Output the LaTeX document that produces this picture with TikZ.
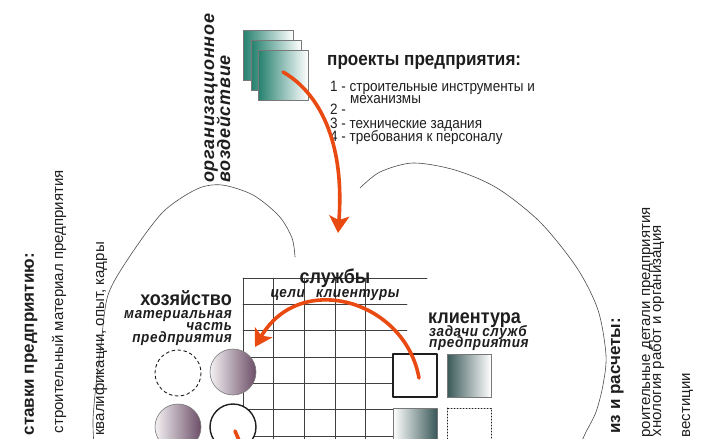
\documentclass[tikz,border=0pt]{standalone}
\usepackage{fontspec}
\usetikzlibrary{arrows.meta}
\setmainfont{Liberation Sans}
\newfontfamily\narrowfont[FakeStretch=0.9]{Liberation Sans}
\newfontfamily\spacedfont[FakeStretch=0.9,LetterSpace=4]{Liberation Sans}
\newfontfamily\vertfont[LetterSpace=4]{Liberation Sans}
\definecolor{flame}{RGB}{232,74,18}
\definecolor{deepteal}{RGB}{36,128,110}
\definecolor{slate}{RGB}{58,88,88}
\definecolor{mauve}{RGB}{108,78,104}
\definecolor{ink}{RGB}{30,30,30}
\begin{document}
\begin{tikzpicture}[x=1pt, y=-1pt, line join=round, line cap=round,
	>={Stealth[length=17pt,width=20pt,inset=4pt]},
	every node/.style={inner sep=0pt, text=ink},
	flow/.style={draw=flame, line width=3.6pt},
	gridline/.style={draw=ink!85, line width=0.8pt},
	rim/.style={draw=ink!60, line width=0.6pt},
	head/.style={font=\narrowfont\bfseries\fontsize{20}{20}\selectfont},
	sub/.style={font=\spacedfont\bfseries\itshape\fontsize{15}{15}\selectfont},
	item/.style={font=\narrowfont\fontsize{15}{15}\selectfont, anchor=base west},
	side/.style={rotate=90, anchor=base east, font=\fontsize{15}{15}\selectfont},
	sidehead/.style={side, font=\bfseries\fontsize{17}{17}\selectfont}]
	\useasboundingbox (0,0) rectangle (713,439);
	\clip (0,0) rectangle (713,439);
	\path (283,72) coordinate (A1) (338,233) coordinate (B1)
	(419,378) coordinate (A2) (255,347) coordinate (B2)
	(235,431) coordinate (A3) (242,447) coordinate (B3);
	% stacked project sheets
	\foreach \sx/\sy in {243/30,251/40,258/50}
	\shade[rim, left color=deepteal, right color=white] (\sx,\sy) rectangle ++(50,50);
	\node[font=\narrowfont\bfseries\fontsize{19}{19}\selectfont, anchor=base west] (proj) at (327,65) {проекты предприятия:};
	\node[item] (it1) at (330,91) {1 - строительные инструменты и};
	\node[item] (it1b) at (350,103) {механизмы};
	\node[item] (it2) at (330,114) {2 -};
	\node[item] (it3) at (330,128) {3 - технические задания};
	\node[item] (it4) at (330,141) {4 - требования к персоналу};
	\node[rotate=90, anchor=base west, font=\vertfont\bfseries\itshape\fontsize{18}{18}\selectfont] (org1) at (214,183) {организационное};
	\node[rotate=90, anchor=base west, font=\vertfont\bfseries\itshape\fontsize{18}{18}\selectfont] (org2) at (230,183) {воздействие};
	% the two rims
	\draw[ink!80, line width=0.6pt] plot[smooth] coordinates {(94,445) (93,420) (96,385) (101,345) (108,295) (130,256) (163,212) (197,189) (222,185) (253,195) (279,216) (292,238) (295,257)};
	\draw[ink!80, line width=0.6pt] plot[smooth] coordinates {(360,188) (380,172) (413,163) (455,170) (497,188) (540,222) (577,268) (598,310) (606,355) (603,385) (596,412) (586,432) (580,445)};
	% grid
	\foreach \gx in {243,273,304,335,365}
	\draw[gridline] (\gx,278) -- (\gx,445);
	\foreach \gy/\gend in {278/427,304/407,330/407,357/393,383/393,409/393,436/393}
	\draw[gridline] (243,\gy) -- (\gend,\gy);
	\node[head, anchor=base] (slu) at (335,283) {службы};
	\node[sub, anchor=base] (slusub) at (335,297) {цели\hspace{7pt} клиентуры};
	\node[head, anchor=base east] (hoz) at (232,305) {хозяйство};
	\node[sub, anchor=base east] (hoz1) at (232,318) {материальная};
	\node[sub, anchor=base east] (hoz2) at (232,330) {часть};
	\node[sub, anchor=base east] (hoz3) at (232,342) {предприятия};
	\node[head, anchor=base west] (kli) at (428,323) {клиентура};
	\node[sub, anchor=base west] (kli1) at (429,336) {задачи служб};
	\node[sub, anchor=base west] (kli2) at (429,347) {предприятия};
	% circles and squares
	\draw[ink, line width=0.9pt, dashed, fill=white] (178,373) circle (23);
	\shade[rim, left color=mauve!8, right color=mauve] (233,372) circle (23);
	\shade[rim, left color=mauve!8, right color=mauve] (178,427) circle (23);
	\draw[ink, line width=1.4pt, fill=white] (233,427) circle (23);
	\draw[ink, line width=1.6pt, fill=white] (393,354) rectangle (437,397);
	\shade[rim, left color=slate, right color=white] (447,354) rectangle (491,397);
	\shade[rim, left color=white, right color=slate] (393,408) rectangle (437,452);
	\draw[ink, line width=1pt, dotted, fill=white] (447,408) rectangle (491,452);
	% side notes
	\node[sidehead] (post) at (34,253) {ставки предприятию:};
	\node[side] (mat) at (63,170) {строительный материал предприятия};
	\node[side] (kval) at (104,242) {квалификации, опыт, кадры};
	\node[sidehead] (anl) at (620,318) {из и расчеты:};
	\node[side] (det) at (650,207) {роительные детали предприятия};
	\node[side] (teh) at (661,225) {хнология работ и организация};
	\node[side] (inv) at (690,373) {вестиции};
	% flows
	\draw[flow, ->] (A1) .. controls (318,92) and (345,140) .. (B1);
	\draw[flow, ->] (A2) .. controls (405,300) and (300,270) .. (B2);
	\draw[flow] (A3) -- (B3);
\end{tikzpicture}
\end{document}
